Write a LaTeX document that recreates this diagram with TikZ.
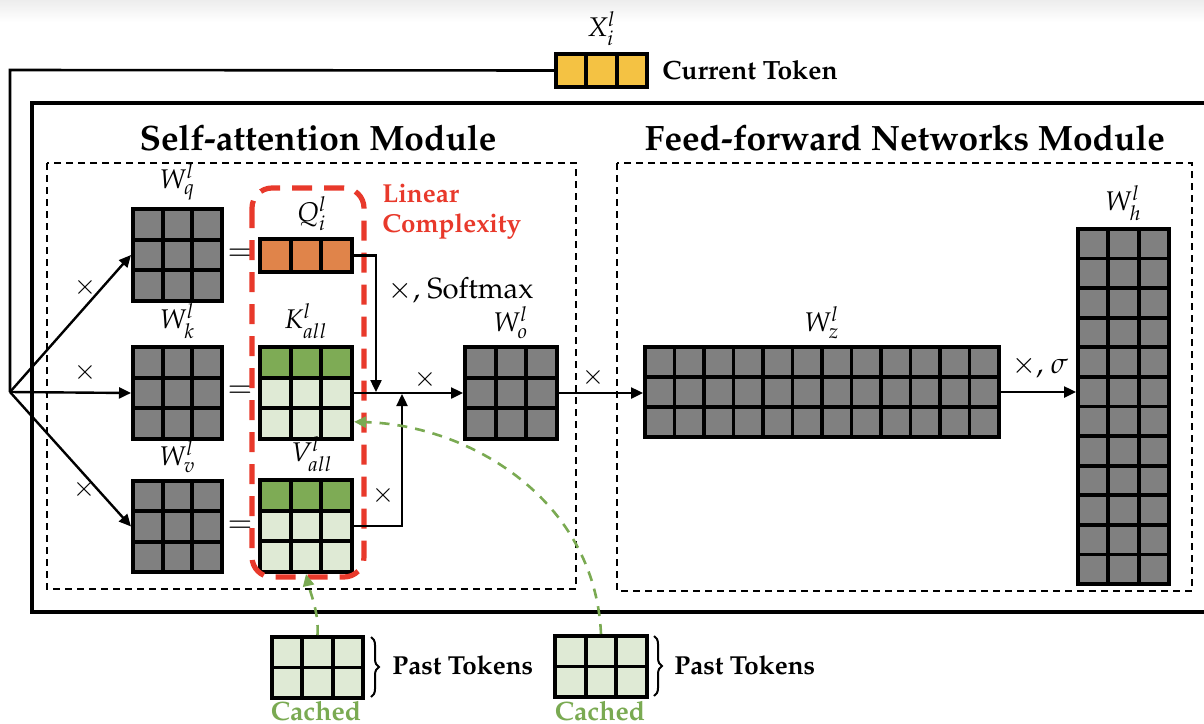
\documentclass[tikz,border=0pt]{standalone}
\usepackage[T1]{fontenc}
\usepackage{mathpazo}
\usetikzlibrary{arrows.meta,fit,decorations.pathreplacing,calc}
\definecolor{cgray}{HTML}{808080}
\definecolor{dgreen}{HTML}{7EAB55}
\definecolor{lgreen}{HTML}{DFEAD5}
\definecolor{corange}{HTML}{E0844A}
\definecolor{cyellow}{HTML}{F4C243}
\definecolor{cred}{HTML}{E8392B}
\definecolor{cgreen}{HTML}{7AAA52}
\tikzset{
  gridline/.style={line width=1.9pt, draw=black},
  matbox/.style={draw=black, line width=2.1pt, inner sep=0pt, outer sep=1pt},
  arr/.style={line width=1.2pt, -{Triangle[length=6pt,width=5.5pt]}},
  plain/.style={line width=1.3pt},
  frame/.style={line width=1.75pt},
  dbox/.style={line width=0.9pt, dash pattern=on 3.5pt off 2.5pt},
  redbox/.style={draw=cred, line width=2.6pt, dash pattern=on 10pt off 6pt, rounded corners=10pt},
  gdash/.style={draw=cgreen, line width=1.3pt, dash pattern=on 5pt off 4pt, -{Triangle[length=6pt,width=5.5pt]}},
  title/.style={font=\fontsize{17.6}{21}\selectfont\bfseries, inner sep=0pt},
  mlab/.style={font=\fontsize{13.5}{16}\selectfont, inner sep=1pt, anchor=south, yshift=2pt},
  opl/.style={font=\fontsize{13.5}{16}\selectfont, inner sep=0pt},
  smalltxt/.style={font=\fontsize{13}{15}\selectfont\bfseries, inner sep=0pt},
  cachedtxt/.style={font=\fontsize{13.3}{15}\selectfont\bfseries, text=cgreen, inner sep=0pt},
  brc/.style={decorate, decoration={brace, amplitude=4pt}, line width=1pt},
}
% name, x0, y0, x1, y1, cols, rows, fill, top-row fill
\newcommand{\gridbox}[9]{%
  \fill[#8] (#2,#3) rectangle (#4,#5);
  \fill[#9] (#2,#3) rectangle (#4,{#3+(#5-#3)/#7});
  \foreach \i in {1,...,#6}{\draw[gridline] ({#2+(#4-#2)*\i/#6},#3) -- ({#2+(#4-#2)*\i/#6},#5);}
  \foreach \j in {1,...,#7}{\draw[gridline] (#2,{#3+(#5-#3)*\j/#7}) -- (#4,{#3+(#5-#3)*\j/#7});}
  \node[matbox, fit={(#2,#3) (#4,#5)}] (#1) {};
}
\begin{document}
\begin{tikzpicture}[x=0.5pt, y=-0.5pt]
\useasboundingbox (0,0) rectangle (1204,723);
\clip (0,0) rectangle (1204,723);
\shade[top color=gray!14, bottom color=white] (0,0) rectangle (1204,22);

% outer frame
\draw[frame] (1220,103) -- (32,103) -- (32,612) -- (1220,612);

% module boxes
\draw[dbox] (47,163) rectangle (576,589);
\draw[dbox] (617,163) rectangle (1192,591);
\node[title] (satitle) at (318,138) {Self-attention Module};
\node[title] (fftitle) at (905,138) {Feed-forward Networks Module};

% current token
\gridbox{tok}{556}{54}{647}{87}{3}{1}{cyellow}{cyellow}
\node[mlab] (xlab) at (tok.north) {$X_i^l$};
\node[smalltxt, anchor=west, font=\fontsize{13.2}{15}\selectfont\bfseries] (curtok) at (662,70) {Current Token};
\coordinate (corner) at (10,70);
\coordinate (fan) at (10,392);
\draw[plain] (tok.west) -- (corner) -- (fan);

% weight matrices
\gridbox{Wq}{133}{209}{222}{301}{3}{3}{cgray}{cgray}
\gridbox{Wk}{133}{347}{222}{439}{3}{3}{cgray}{cgray}
\gridbox{Wv}{133}{481}{222}{572}{3}{3}{cgray}{cgray}
\node[mlab] at (Wq.north) {$W_q^l$};
\node[mlab] at (Wk.north) {$W_k^l$};
\node[mlab] at (Wv.north) {$W_v^l$};

\draw[arr] (fan) -- (Wq.west);
\draw[arr] (fan) -- (Wk.west);
\draw[arr] (fan) -- (Wv.west);
\node[opl] at (85,287) {$\times$};
\node[opl] at (85,372) {$\times$};
\node[opl] at (84,489) {$\times$};

% equals
\node[opl, font=\fontsize{15}{16}\selectfont] at (240,255) {$=$};
\node[opl, font=\fontsize{15}{16}\selectfont] at (240,392) {$=$};
\node[opl, font=\fontsize{15}{16}\selectfont] at (240,527) {$=$};

% Q K V
\gridbox{Q}{260}{239}{352}{272}{3}{1}{corange}{corange}
\gridbox{K}{260}{347}{352}{439}{3}{3}{lgreen}{dgreen}
\gridbox{V}{260}{480}{352}{572}{3}{3}{lgreen}{dgreen}
\node[mlab] at ($(Q.north)+(6,0)$) {$Q_i^l$};
\node[mlab] at (K.north) {$K_{all}^l$};
\node[mlab] at ($(V.north)+(6,0)$) {$V_{all}^l$};

% linear complexity box
\draw[redbox] (252,188) rectangle (364,577);
\node[font=\fontsize{13}{15}\selectfont\bfseries, text=cred, align=left, anchor=north west, inner sep=0pt] (lc) at (382,184) {Linear\\Complexity};

% attention
\gridbox{Wo}{465}{347}{557}{439}{3}{3}{cgray}{cgray}
\node[mlab] at (Wo.north) {$W_o^l$};
\coordinate (j1) at (376,392);
\coordinate (j2) at (402,394);
\draw[arr] (Q.east) -| (j1);
\draw[arr] (K.east) -- (Wo.west);
\draw[arr] (V.east) -| (j2);
\node[opl, anchor=west, font=\fontsize{14.6}{16}\selectfont] at (388,290) {$\times$, Softmax};
\node[opl] at (425,379) {$\times$};
\node[opl] at (383,495) {$\times$};

% FFN
\gridbox{Wz}{645}{347}{999}{437}{12}{3}{cgray}{cgray}
\gridbox{Wh}{1078}{229}{1169}{584}{3}{12}{cgray}{cgray}
\node[mlab] at (Wz.north) {$W_z^l$};
\node[mlab] at (Wh.north) {$W_h^l$};
\draw[arr] (Wo.east) -- (Wo.east -| Wz.west);
\node[opl] at (593,377) {$\times$};
\draw[arr] (Wz.east) -- (Wz.east -| Wh.west);
\node[opl, font=\fontsize{14.6}{16}\selectfont] at (1040,367) {$\times$, $\sigma$};

% cached past tokens
\gridbox{C1}{272}{637}{363}{698}{3}{2}{lgreen}{lgreen}
\gridbox{C2}{555}{636}{647}{697}{3}{2}{lgreen}{lgreen}
\draw[brc] (371,637) -- (371,697);
\draw[brc] (654,636) -- (654,696);
\node[smalltxt, anchor=west] at (392,665) {Past Tokens};
\node[smalltxt, anchor=west] at (674,665) {Past Tokens};
\node[cachedtxt] at (316,711) {Cached};
\node[cachedtxt] at (600,711) {Cached};

\draw[gdash] (C1.north) .. controls (319,612) and (310,592) .. (V.south);
\draw[gdash] (C2.north) .. controls (595,500) and (470,425) .. ($(K.south east)!0.2!(K.north east)$);
\end{tikzpicture}
\end{document}
